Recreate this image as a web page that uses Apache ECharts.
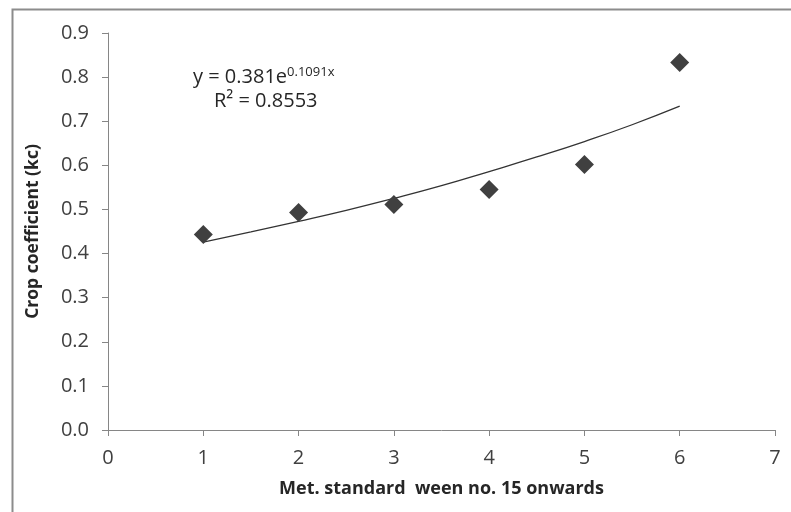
<!DOCTYPE html>
<html>
<head>
<meta charset="utf-8">
<script src="https://cdn.jsdelivr.net/npm/echarts@6/dist/echarts.min.js"></script>
<style>
  html, body { margin: 0; padding: 0; background: #fff; }
  #chart { width: 791px; height: 512px; }
</style>
</head>
<body>
<div id="chart"></div>
<script>
// observed values (week, kc)
var weeks = [1, 2, 3, 4, 5, 6];
var kcValues = [0.443, 0.493, 0.511, 0.545, 0.602, 0.833];

// trendline
var trendX = [1, 1.5, 2, 2.5, 3, 3.5, 4, 4.5, 5, 5.5, 6];
var trendY = [0.426, 0.449, 0.473, 0.498, 0.525, 0.554, 0.586, 0.619, 0.654, 0.692, 0.734];

var xTicks = [0, 1, 2, 3, 4, 5, 6, 7];
var yTicks = [0, 0.1, 0.2, 0.3, 0.4, 0.5, 0.6, 0.7, 0.8, 0.9];

var axisColor = '#868686';
var textColor = '#404040';
var fontFam = '"Open Sans", "Liberation Sans", sans-serif';

var chart = echarts.init(document.getElementById('chart'));

chart.setOption({
  animation: false,
  grid: {left: 108, right: 16, top: 33, bottom: 82},
  xAxis: {
    type: 'value',
    min: xTicks[0],
    max: xTicks[xTicks.length - 1],
    interval: 1,
    name: 'Met. standard  ween no. 15 onwards',
    nameLocation: 'middle',
    nameGap: 50,
    nameTextStyle: {fontFamily: fontFam, fontWeight: 'bold', fontSize: 18, color: '#262626'},
    axisLine: {lineStyle: {color: axisColor, width: 1}},
    axisTick: {show: true, length: 6, lineStyle: {color: axisColor}},
    axisLabel: {fontFamily: fontFam, fontSize: 20, color: textColor, margin: 18},
    splitLine: {show: false}
  },
  yAxis: {
    type: 'value',
    min: yTicks[0],
    max: yTicks[yTicks.length - 1],
    interval: 0.1,
    name: 'Crop coefficient (kc)',
    nameLocation: 'middle',
    nameGap: 66,
    nameTextStyle: {fontFamily: fontFam, fontWeight: 'bold', fontSize: 17.5, color: '#262626'},
    axisLine: {show: true, lineStyle: {color: axisColor, width: 1}},
    axisTick: {show: true, length: 6, lineStyle: {color: axisColor}},
    axisLabel: {
      fontFamily: fontFam, fontSize: 20, color: textColor, margin: 19,
      formatter: function(v) { return v.toFixed(1); }
    },
    splitLine: {show: false}
  },
  graphic: [
    {
      type: 'rect',
      left: 10, top: 7,
      shape: {width: 800, height: 504},
      style: {fill: 'none', stroke: '#8c8c8c', lineWidth: 2},
      silent: true
    },
    {
      type: 'text',
      left: 193, top: 66,
      style: {
        text: '{a|y = 0.381e}{b|0.1091x}',
        rich: {
          a: {fontFamily: fontFam, fontSize: 20, fill: '#262626'},
          b: {fontFamily: fontFam, fontSize: 13, fill: '#262626', verticalAlign: 'top', padding: [0, 0, 10, 0]}
        }
      },
      silent: true
    },
    {
      type: 'text',
      left: 214, top: 91,
      style: {text: 'R² = 0.8553', fontFamily: fontFam, fontSize: 20, fill: '#262626'},
      silent: true
    }
  ],
  series: [
    {
      name: 'Trend',
      type: 'line',
      data: trendX.map(function(x, i) { return [x, trendY[i]]; }),
      smooth: true,
      showSymbol: false,
      lineStyle: {color: '#333333', width: 1.3},
      z: 2
    },
    {
      name: 'kc',
      type: 'scatter',
      data: weeks.map(function(w, i) { return [w, kcValues[i]]; }),
      symbol: 'diamond',
      symbolSize: [19, 19],
      itemStyle: {color: '#404040', opacity: 1},
      z: 3
    }
  ]
});
</script>
</body>
</html>
